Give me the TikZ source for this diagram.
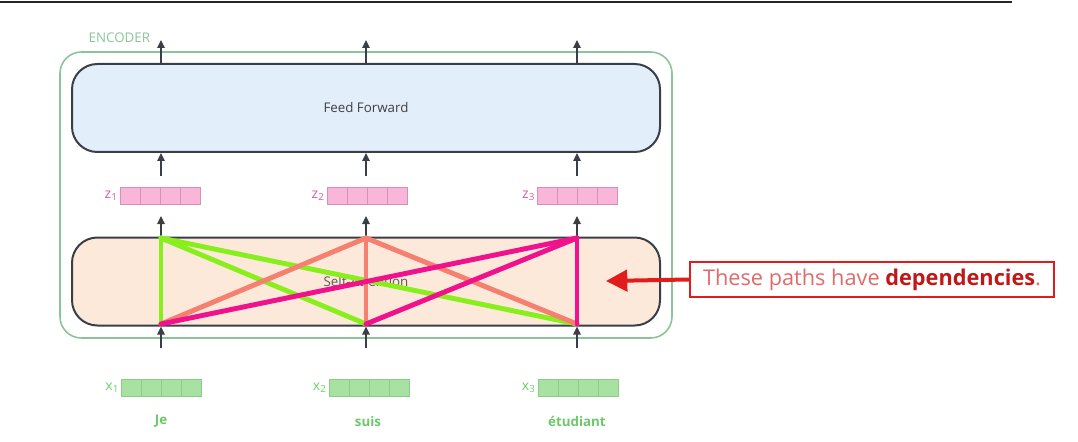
\documentclass[tikz,border=0pt]{standalone}
\usepackage{fontspec}
\setmainfont{Open Sans}
\usetikzlibrary{positioning,arrows.meta,calc}
\definecolor{encgreen}{HTML}{8CC49A}
\definecolor{boxline}{HTML}{3A3F47}
\definecolor{fffill}{HTML}{E3EEFB}
\definecolor{safill}{HTML}{FDE9DA}
\definecolor{zfill}{HTML}{F9B6D9}
\definecolor{zline}{HTML}{D890B5}
\definecolor{zlabel}{HTML}{E2579F}
\definecolor{xfill}{HTML}{A8E2A2}
\definecolor{xline}{HTML}{8CCB88}
\definecolor{xlabel}{HTML}{6BD06B}
\definecolor{wordgreen}{HTML}{6CC86A}
\definecolor{limeline}{HTML}{88EE1C}
\definecolor{salmonline}{HTML}{F5806F}
\definecolor{magline}{HTML}{F0128C}
\definecolor{depred}{HTML}{E21B1B}
\definecolor{deptext}{HTML}{E06A6A}

\tikzstyle{block}=[draw=boxline,line width=1.5pt,rounded corners=19pt,minimum width=441pt,minimum height=66pt]
\tikzstyle{vec}=[draw=#1,line width=0.6pt,minimum width=60pt,minimum height=12.75pt,inner sep=0pt,
  path picture={\foreach \f in {0.25,0.5,0.75}{\draw[#1,line width=0.6pt] ($(path picture bounding box.south west)!\f!(path picture bounding box.south east)$) -- ($(path picture bounding box.north west)!\f!(path picture bounding box.north east)$);}}]
\tikzstyle{arr}=[boxline,line width=1.2pt,-{Triangle[length=6pt,width=5.5pt]}]
\tikzstyle{attn}=[line width=3.7pt,line cap=round]
\newcommand{\zvec}[3]{\node[vec=zline,fill=zfill,label={[text=zlabel,font=\fontsize{10.5}{12}\selectfont,xshift=2pt]left:z\textsubscript{#3}}] (#1) at (#2) {};}
\newcommand{\xvec}[3]{\node[vec=xline,fill=xfill,label={[text=xlabel,font=\fontsize{10.5}{12}\selectfont,xshift=2pt]left:x\textsubscript{#3}}] (#1) at (#2) {};}

\begin{document}
\begin{tikzpicture}[x=0.75pt,y=-0.75pt]
    \useasboundingbox (0,0) rectangle (1078,442);
    % slide rule at the top
    \draw[line width=1.5pt,black!85] (0,2) -- (1012,2);

    % encoder frame and its two layers
    \node[draw=encgreen,line width=1.2pt,rounded corners=16pt,minimum width=459pt,minimum height=214.5pt] (enc) at (366,195) {};
    \node[text=encgreen,font=\fontsize{10}{12}\selectfont,anchor=south west] (enclabel) at (84,47) {ENCODER};
    \node[block,fill=fffill,font=\fontsize{10}{12}\selectfont,text=black!75] (ff) at (366,108) {Feed Forward};
    \node[block,fill=safill,font=\fontsize{10}{12}\selectfont,text=black!65] (sa) at (366,281.5) {Self-Attention};

    % vectors and words
    \zvec{z1}{160,195.5}{1}
    \zvec{z2}{367,195.5}{2}
    \zvec{z3}{577.5,195.5}{3}
    \xvec{x1}{161.5,388}{1}
    \xvec{x2}{369,388}{2}
    \xvec{x3}{578,388}{3}
    \node[text=wordgreen,font=\fontsize{10}{12}\selectfont\bfseries] (w1) at (161,421) {Je};
    \node[text=wordgreen,font=\fontsize{10}{12}\selectfont\bfseries] (w2) at (368,421) {suis};
    \node[text=wordgreen,font=\fontsize{10}{12}\selectfont\bfseries] (w3) at (577,421) {étudiant};

    % arrow ends
    \coordinate (o1) at (161,40);  \coordinate (o2) at (366,40);  \coordinate (o3) at (577,40);
    \coordinate (i1) at (161,348); \coordinate (i2) at (366,348); \coordinate (i3) at (577,348);
    \foreach \c/\n in {161/1,366/2,577/3}{
        \draw[arr] (ff.north -| \c,0) -- (o\n);
        \draw[arr] (\c,176) -- (ff.south -| \c,0);
        \draw[arr] (sa.north -| \c,0) -- (\c,216);
        \draw[arr] (i\n) -- (sa.south -| \c,0);
    }

    % attention paths
    \coordinate (t1) at (161,238); \coordinate (t2) at (366,238); \coordinate (t3) at (577,238);
    \coordinate (b1) at (161,324); \coordinate (b2) at (366,324); \coordinate (b3) at (577,324);
    \foreach \b in {b1,b2,b3} \draw[attn,limeline] (t1) -- (\b);
    \foreach \b in {b1,b2,b3} \draw[attn,salmonline] (t2) -- (\b);
    \foreach \b in {b1,b2,b3} \draw[attn,magline] (t3) -- (\b);

    % note
    \node[draw=depred,line width=1.5pt,minimum width=273pt,minimum height=26pt,inner sep=2pt,
          font=\fontsize{16.3}{20}\selectfont,text=deptext] (note) at (872,279.5)
          {These paths have \textcolor{depred!85!black}{\bfseries dependencies}.};
    \coordinate (tip) at (606,281);
    \draw[depred,line width=3pt,-{Triangle[length=16pt,width=16pt]}] (note.west) -- (tip);
\end{tikzpicture}
\end{document}
